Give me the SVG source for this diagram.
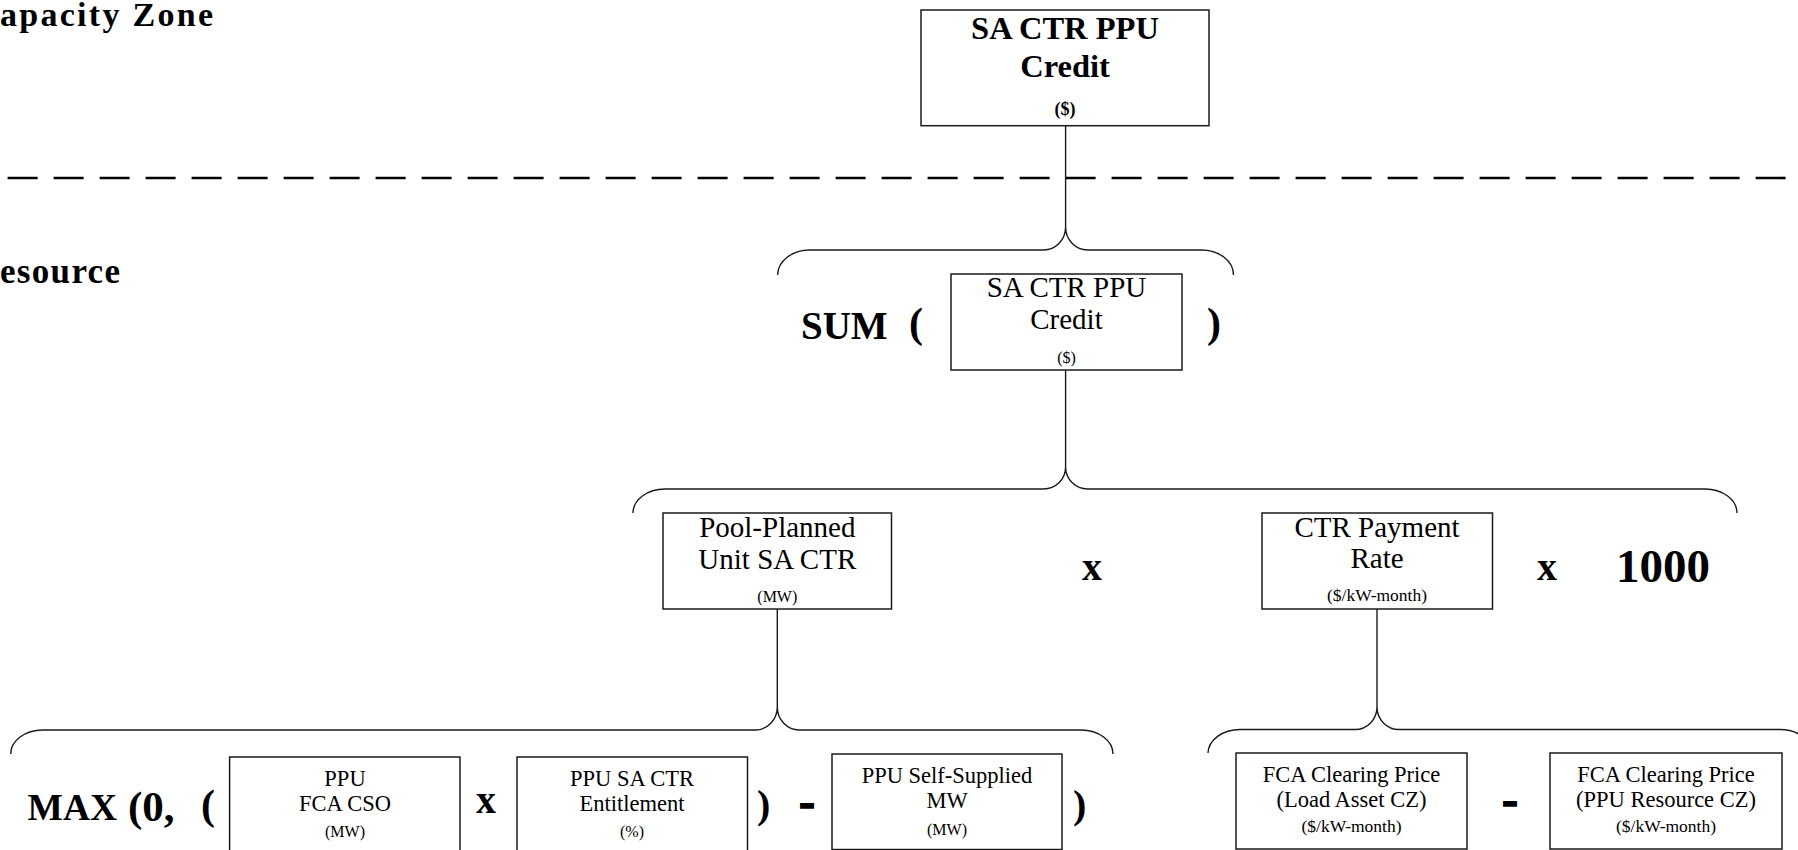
<svg xmlns="http://www.w3.org/2000/svg" width="1798" height="850" viewBox="0 0 1798 850" font-family="'Liberation Serif', 'Times New Roman', serif">
<style>
text{font-family:'Liberation Serif','Times New Roman',serif;fill:#000}
.box{fill:#fff;stroke:#1a1a1a;stroke-width:1.5}
.t{text-anchor:middle}
.m{font-size:29px}
.s{font-size:22.5px}
.u{font-size:16px}
.uu{font-size:17.5px}
.b{font-weight:bold}
.op{font-weight:bold}
.link{fill:none;stroke:#1a1a1a;stroke-width:1.4}
.div{fill:none;stroke:#000;stroke-width:2.6;stroke-dasharray:30 16}
</style>
<rect width="1798" height="850" fill="#fff"/>

<g id="zone-labels">
<text class="op" x="0" y="26" font-size="34" textLength="213" lengthAdjust="spacing">apacity Zone</text>
<text class="op" x="0" y="283" font-size="35" textLength="120" lengthAdjust="spacing">esource</text>
</g>

<line id="divider" class="div" x1="7.6" y1="178" x2="1790" y2="178"/>

<g id="connectors">
<path class="link" d="M1065.6,125.7 V227"/>
<path class="link" d="M777.7,275 A32,25 0 0 1 809.7,250 H1043.6 A22,23 0 0 0 1065.6,227 A22,23 0 0 0 1087.6,250 H1201.5 A32,25 0 0 1 1233.5,275"/>
<path class="link" d="M1065.6,370 V467"/>
<path class="link" d="M633,513 A32,24 0 0 1 665,489 H1043.6 A22,22 0 0 0 1065.6,467 A22,22 0 0 0 1087.6,489 H1705 A32,24 0 0 1 1737,513"/>
<path class="link" d="M777.3,609 V707"/>
<path class="link" d="M10.7,754 A32,24 0 0 1 42.7,730 H755.3 A22,23 0 0 0 777.3,707 A22,23 0 0 0 799.3,730 H1081 A32,24 0 0 1 1113,754"/>
<path class="link" d="M1377,609 V707"/>
<path class="link" d="M1208,753 A32,24 0 0 1 1240,729.5 H1355 A22,22.5 0 0 0 1377,707 A22,22.5 0 0 0 1399,729.5 H1780 A32,24 0 0 1 1812,753"/>
</g>

<g id="node-top">
<rect class="box" x="921" y="10" width="288" height="115.7"/>
<text class="t b" x="1065" y="39" font-size="32.5">SA CTR PPU</text>
<text class="t b" x="1065" y="77" font-size="32.5">Credit</text>
<text class="t b" x="1065" y="115" font-size="18">($)</text>
</g>

<g id="node-sum">
<rect class="box" x="951" y="274" width="231" height="96"/>
<text class="t m" x="1066.5" y="297">SA CTR PPU</text>
<text class="t m" x="1066.5" y="329">Credit</text>
<text class="t u" x="1066.5" y="363">($)</text>
</g>

<g id="node-pool">
<rect class="box" x="663" y="513" width="228.5" height="96"/>
<text class="t m" x="777.3" y="537">Pool-Planned</text>
<text class="t m" x="777.3" y="569">Unit SA CTR</text>
<text class="t u" x="777.3" y="602">(MW)</text>
</g>

<g id="node-ctr">
<rect class="box" x="1262" y="513" width="230.5" height="96"/>
<text class="t m" x="1377" y="537">CTR Payment</text>
<text class="t m" x="1377" y="568">Rate</text>
<text class="t uu" x="1377" y="601">($/kW-month)</text>
</g>

<g id="node-cso">
<rect class="box" x="229.6" y="757" width="230.4" height="100"/>
<text class="t s" x="345" y="786">PPU</text>
<text class="t s" x="345" y="811">FCA CSO</text>
<text class="t u" x="345" y="837">(MW)</text>
</g>

<g id="node-entitlement">
<rect class="box" x="517" y="757" width="230.5" height="100"/>
<text class="t s" x="632" y="786">PPU SA CTR</text>
<text class="t s" x="632" y="811">Entitlement</text>
<text class="t u" x="632" y="837">(%)</text>
</g>

<g id="node-selfsupplied">
<rect class="box" x="832" y="754" width="230" height="95.5"/>
<text class="t s" x="947" y="783">PPU Self-Supplied</text>
<text class="t s" x="947" y="808">MW</text>
<text class="t u" x="947" y="835">(MW)</text>
</g>

<g id="node-fca-load">
<rect class="box" x="1236" y="753" width="231" height="96"/>
<text class="t s" x="1351.5" y="782">FCA Clearing Price</text>
<text class="t s" x="1351.5" y="807">(Load Asset CZ)</text>
<text class="t uu" x="1351.5" y="832">($/kW-month)</text>
</g>

<g id="node-fca-ppu">
<rect class="box" x="1550" y="753" width="232" height="96"/>
<text class="t s" x="1666" y="782">FCA Clearing Price</text>
<text class="t s" x="1666" y="807">(PPU Resource CZ)</text>
<text class="t uu" x="1666" y="832">($/kW-month)</text>
</g>

<g id="operators">
<text class="op" x="801" y="339" font-size="39">SUM</text>
<text class="op" x="909" y="337" font-size="42">(</text>
<text class="op" x="1207" y="337" font-size="42">)</text>
<text class="op" x="1082" y="580" font-size="40">x</text>
<text class="op" x="1537" y="580" font-size="40">x</text>
<text class="op" x="1616" y="582" font-size="47">1000</text>
<text class="op" x="27.5" y="820" font-size="37.5">MAX</text>
<text class="op" x="128" y="821" font-size="43">(0,</text>
<text class="op" x="201" y="819" font-size="42">(</text>
<text class="op" x="476" y="813" font-size="40">x</text>
<text class="op" x="757" y="818" font-size="40">)</text>
<text class="op" x="799" y="817" font-size="48" stroke="#000" stroke-width="1.5">-</text>
<text class="op" x="1073" y="818" font-size="40">)</text>
<text class="op" x="1502" y="815" font-size="48" stroke="#000" stroke-width="1.5">-</text>
</g>
</svg>
